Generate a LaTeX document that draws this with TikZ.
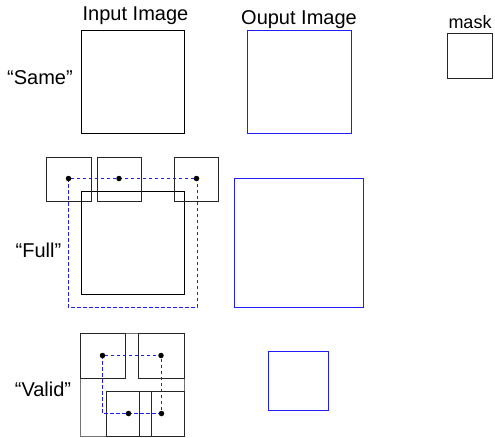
\documentclass[tikz,border=0pt]{standalone}
\usepackage{fontspec}
\setmainfont{Liberation Sans}
\definecolor{outblue}{RGB}{30,30,245}
\begin{document}
\begin{tikzpicture}[x=1pt,y=-1pt,
  lbl/.style={anchor=base,inner sep=0pt,font=\fontsize{20}{22}\selectfont},
  inbox/.style={draw=black,line width=0.9pt},
  outbox/.style={draw=outblue,line width=1pt},
  maskbox/.style={draw=black!85,line width=0.9pt},
  pathdash/.style={draw=outblue,dashed,line width=0.9pt,dash pattern=on 3.5pt off 2.5pt},
  dot/.style={circle,fill=black,inner sep=0pt,minimum size=5.5pt}]
\useasboundingbox (0,0) rectangle (495,437);
% headers
\node[lbl] (hin) at (135.5,20) {Input Image};
\node[lbl] (hout) at (299,24) {Ouput Image};
\node[lbl,font=\fontsize{18}{20}\selectfont] (hmask) at (470,28) {mask};
% row labels
\node[lbl] (lsame) at (40,84) {“Same”};
\node[lbl] (lfull) at (38.5,257) {“Full”};
\node[lbl] (lvalid) at (43,396) {“Valid”};
% Same row
\draw[inbox] (81,30) rectangle (184,133);
\draw[outbox] (247,30) rectangle (351,133);
\draw[maskbox] (447,33) rectangle (492,78);
% Full row
\draw[inbox] (81,191) rectangle (184,294);
\draw[maskbox] (46,157) rectangle (91,201);
\draw[maskbox] (97,157) rectangle (141,201);
\draw[maskbox] (174,157) rectangle (218,201);
\draw[pathdash] (68,178) rectangle (197,307);
\node[dot] (f1) at (68.5,178.5) {};
\node[dot] (f2) at (119,178.5) {};
\node[dot] (f3) at (196.5,178.5) {};
\draw[outbox] (234,178) rectangle (363,307);
% Valid row
\draw[draw=black!55,line width=0.9pt] (80,333) rectangle (184,436);
\draw[maskbox] (80,333) rectangle (125,378);
\draw[maskbox] (138,333) rectangle (184,378);
\draw[maskbox] (106,391) rectangle (151,436);
\draw[maskbox] (139,391) rectangle (184,436);
\draw[pathdash] (102,355) rectangle (161,413);
\node[dot] (v1) at (102.5,355.5) {};
\node[dot] (v2) at (161,355.5) {};
\node[dot] (v3) at (128.5,413.5) {};
\node[dot] (v4) at (161.5,413.5) {};
\draw[outbox] (268,351) rectangle (328,410);
\end{tikzpicture}
\end{document}
